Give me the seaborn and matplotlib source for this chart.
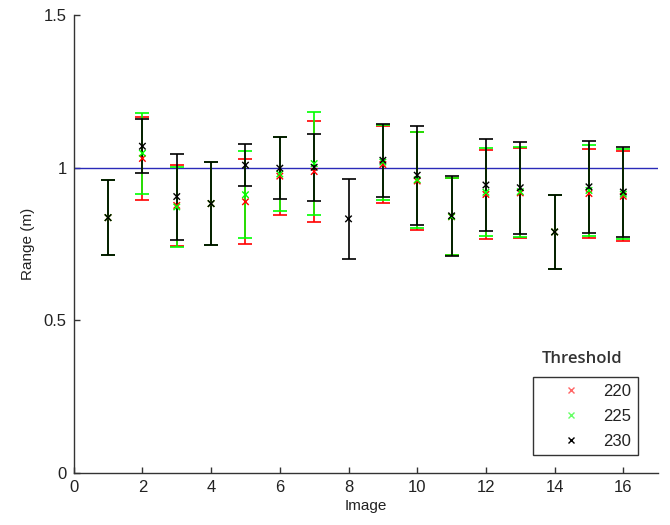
import numpy as np
import pandas as pd
import matplotlib
matplotlib.use("Agg")
import matplotlib.pyplot as plt
import seaborn as sns
from matplotlib.lines import Line2D

# ---------------- data ----------------
images = list(range(1, 17))
thresholds = ["220", "225", "230"]
colors = ["#ff0000", "#00ff00", "#000000"]

mean_220 = [0.836, 1.030, 0.876, 0.882, 0.888, 0.972, 0.987, np.nan, 1.010, 0.956, 0.839, 0.912, 0.917, 0.789, 0.915, 0.906]
err_220 = [0.124, 0.136, 0.132, 0.136, 0.140, 0.127, 0.165, np.nan, 0.126, 0.159, 0.127, 0.146, 0.148, 0.120, 0.145, 0.147]
mean_225 = [0.836, 1.047, 0.871, 0.882, 0.911, 0.979, 1.013, np.nan, 1.018, 0.960, 0.839, 0.919, 0.921, 0.789, 0.925, 0.913]
err_225 = [0.124, 0.132, 0.131, 0.136, 0.143, 0.120, 0.168, np.nan, 0.123, 0.158, 0.127, 0.144, 0.147, 0.120, 0.148, 0.147]
mean_230 = [0.836, 1.070, 0.905, 0.882, 1.008, 0.998, 1.001, 0.832, 1.024, 0.975, 0.842, 0.943, 0.934, 0.789, 0.937, 0.920]
err_230 = [0.124, 0.088, 0.141, 0.136, 0.068, 0.101, 0.110, 0.130, 0.119, 0.162, 0.132, 0.151, 0.151, 0.120, 0.150, 0.146]

reference_range = 1.0
x_ticks = [0, 2, 4, 6, 8, 10, 12, 14, 16]
y_ticks = [0, 0.5, 1, 1.5]
y_tick_labels = ["0", "0.5", "1", "1.5"]

means = [mean_220, mean_225, mean_230]
errs = [err_220, err_225, err_230]

df = pd.concat(
    [pd.DataFrame({"Image": images, "Range": m, "Err": e, "Threshold": t})
     for m, e, t in zip(means, errs, thresholds)],
    ignore_index=True,
)

# ---------------- style ----------------
sns.set_style("ticks")
plt.rcParams["font.family"] = ["Liberation Sans", "DejaVu Sans"]

fig = plt.figure(figsize=(6.7, 5.25), dpi=100)
ax = fig.add_axes([0.110, 0.0996, 0.8716, 0.8718])

ax.axhline(reference_range, color="#2a2ab8", lw=1.0, zorder=1)

for i, (t, c) in enumerate(zip(thresholds, colors)):
    sub = df[df["Threshold"] == t]
    ax.errorbar(sub["Image"], sub["Range"], yerr=sub["Err"], fmt="none",
                ecolor=c, elinewidth=1.2, capsize=4.7, capthick=1.2,
                zorder=2 + i)

sns.scatterplot(data=df, x="Image", y="Range", hue="Threshold",
                palette=dict(zip(thresholds, colors)), marker="x", s=22,
                linewidth=1.0, legend=False, ax=ax, zorder=10)

ax.set_xlim(0, 17)
ax.set_ylim(0, 1.5)
ax.set_xticks(x_ticks)
ax.set_xticklabels([str(v) for v in x_ticks])
ax.set_yticks(y_ticks)
ax.set_yticklabels(y_tick_labels)
ax.set_xlabel("Image", fontsize=11, color="#222222", labelpad=3)
ax.set_ylabel("Range (m)", fontsize=11, color="#222222", labelpad=6)

for s in ["top", "right"]:
    ax.spines[s].set_visible(False)
for s in ["left", "bottom"]:
    ax.spines[s].set_color("#333333")
    ax.spines[s].set_linewidth(1.0)
ax.tick_params(direction="in", length=4, width=1, color="#333333",
               labelsize=12, labelcolor="#222222", pad=5)

handles = [Line2D([0], [0], marker="x", ls="", color=c, markersize=5,
                  markeredgewidth=1.0, alpha=0.6 if c != "#000000" else 1.0)
           for c in colors]
leg = ax.legend(handles, thresholds, loc="upper left",
                bbox_to_anchor=(533 / 670, 1 - 377 / 525),
                bbox_transform=fig.transFigure, borderaxespad=0,
                fontsize=12, frameon=True, fancybox=False, framealpha=1,
                edgecolor="#333333", borderpad=0.4, handlelength=3.75,
                handletextpad=0.05, labelspacing=0.6)
leg.get_frame().set_linewidth(1.0)
for txt in leg.get_texts():
    txt.set_color("#222222")

fig.text(581.7 / 670, 1 - 359 / 525, "Threshold", ha="center", va="center",
         fontsize=12, family=["Open Sans", "DejaVu Sans"], weight="semibold",
         color="#333333")

fig.savefig("out.png", dpi=100)
